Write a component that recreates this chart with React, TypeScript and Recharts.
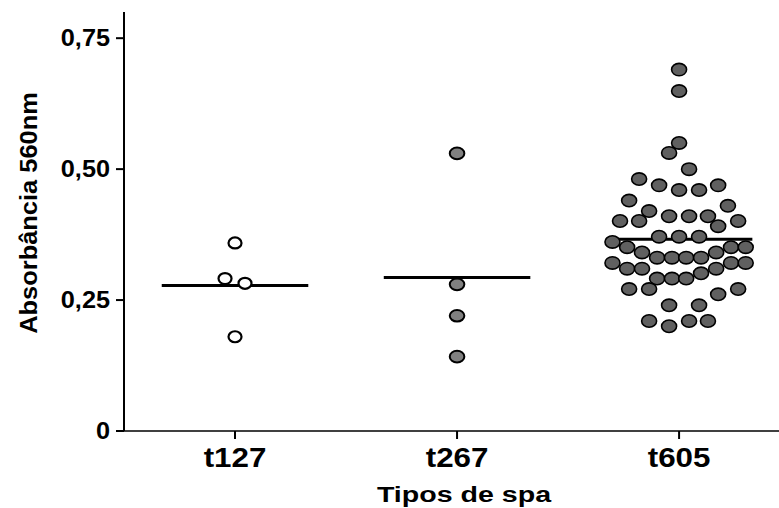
import { ScatterChart, Scatter, XAxis, YAxis, ReferenceLine, Label } from "recharts";

const categories = ["t127", "t267", "t605"];
const yTicks = [0, 0.25, 0.5, 0.75];
const medians = [0.278, 0.293, 0.366];

// values + horizontal jitter (in category units) as drawn in the dot plot
const t127Values = [0.359, 0.291, 0.282, 0.18];
const t127Jitter = [0, -0.045, 0.045, 0];

const t267Values = [0.53, 0.28, 0.22, 0.142];
const t267Jitter = [0, 0, 0, 0];

const t605Values = [
  0.69, 0.649, 0.55, 0.531, 0.5, 0.481, 0.469, 0.46, 0.46, 0.469,
  0.44, 0.43, 0.42, 0.401, 0.401, 0.41, 0.41, 0.41, 0.391, 0.401,
  0.361, 0.371, 0.371, 0.371, 0.351, 0.341, 0.331, 0.331, 0.331, 0.331,
  0.341, 0.351, 0.351, 0.321, 0.31, 0.31, 0.291, 0.291, 0.291, 0.301,
  0.31, 0.321, 0.321, 0.271, 0.271, 0.261, 0.271, 0.24, 0.24, 0.21,
  0.2, 0.21, 0.21,
];
const t605Jitter = [
  0, 0, 0, -0.045, 0.045, -0.18, -0.09, 0, 0.09, 0.176,
  -0.225, 0.22, -0.135, -0.266, -0.18, -0.045, 0.045, 0.13, 0.176, 0.266,
  -0.3, -0.09, 0, 0.09, -0.234, -0.167, -0.099, -0.032, 0.032, 0.099,
  0.167, 0.234, 0.3, -0.3, -0.234, -0.167, -0.099, -0.032, 0.032, 0.099,
  0.167, 0.234, 0.3, -0.225, -0.135, 0.176, 0.266, -0.045, 0.09, -0.135,
  -0.045, 0.045, 0.13,
];

const toPoints = (values: number[], jitter: number[], idx: number) =>
  values.map((v, i) => ({ x: idx + 1 + jitter[i], y: v }));

const FONT = "'Liberation Sans', Arial, sans-serif";
const HALF = 0.33;

const fmt = (v: number) => (v === 0 ? "0" : v.toFixed(2).replace(".", ","));

const YTick = (props: any) => {
  const { x, y, payload } = props;
  return (
    <text
      transform={`translate(${x - 4},${y + 8}) scale(1.1,1)`}
      textAnchor="end"
      fontFamily={FONT}
      fontWeight="bold"
      fontSize={23}
      fill="#000"
    >
      {fmt(payload.value)}
    </text>
  );
};

const XTick = (props: any) => {
  const { x, payload } = props;
  return (
    <text
      transform={`translate(${x},467) scale(1.14,1)`}
      textAnchor="middle"
      fontFamily={FONT}
      fontWeight="bold"
      fontSize={27.5}
      fill="#000"
    >
      {categories[Math.round(payload.value) - 1]}
    </text>
  );
};

const dot = (fill: string, rx: number, ry: number, sw: number) => (p: any) =>
  (
    <ellipse
      cx={p.cx}
      cy={p.cy}
      rx={rx}
      ry={ry}
      fill={fill}
      stroke="#000"
      strokeWidth={sw}
    />
  );

export default function App() {
  return (
    <div style={{ position: "absolute", left: 0, top: 0, background: "#fff" }}>
      <ScatterChart
        width={779}
        height={508}
        margin={{ top: 12, right: 0, bottom: 0, left: 0 }}
      >
        <XAxis
          type="number"
          dataKey="x"
          domain={[0.5, 3.45]}
          ticks={[1, 2, 3]}
          allowDataOverflow
          height={77}
          tick={<XTick />}
          tickSize={8}
          axisLine={{ stroke: "#000", strokeWidth: 1.5 }}
          tickLine={{ stroke: "#000", strokeWidth: 2 }}
        >
          <Label
            content={() => (
              <text
                transform="translate(464,502) scale(1.3,1)"
                textAnchor="middle"
                fontFamily={FONT}
                fontWeight="bold"
                fontSize={22}
                fill="#000"
              >
                Tipos de spa
              </text>
            )}
          />
        </XAxis>
        <YAxis
          type="number"
          dataKey="y"
          domain={[0, 0.8]}
          ticks={yTicks}
          allowDataOverflow
          width={124}
          tick={<YTick />}
          tickSize={8}
          axisLine={{ stroke: "#000", strokeWidth: 2 }}
          tickLine={{ stroke: "#000", strokeWidth: 2 }}
        >
          <Label
            content={() => (
              <text
                transform="translate(37,213) rotate(-90) scale(1.06,1)"
                textAnchor="middle"
                fontFamily={FONT}
                fontWeight="bold"
                fontSize={24}
                fill="#000"
              >
                Absorbância 560nm
              </text>
            )}
          />
        </YAxis>
        <Scatter
          data={toPoints(t127Values, t127Jitter, 0)}
          shape={dot("#fff", 6.5, 5.5, 2.2)}
          isAnimationActive={false}
        />
        <Scatter
          data={toPoints(t267Values, t267Jitter, 1)}
          shape={dot("#808080", 7.3, 5.8, 2)}
          isAnimationActive={false}
        />
        <Scatter
          data={toPoints(t605Values, t605Jitter, 2)}
          shape={dot("#606060", 7.5, 6.2, 1.6)}
          isAnimationActive={false}
        />
        {medians.map((m, i) => (
          <ReferenceLine
            key={categories[i]}
            segment={[
              { x: i + 1 - HALF, y: m },
              { x: i + 1 + HALF, y: m },
            ]}
            stroke="#000"
            strokeWidth={3}
            ifOverflow="visible"
          />
        ))}
      </ScatterChart>
    </div>
  );
}
